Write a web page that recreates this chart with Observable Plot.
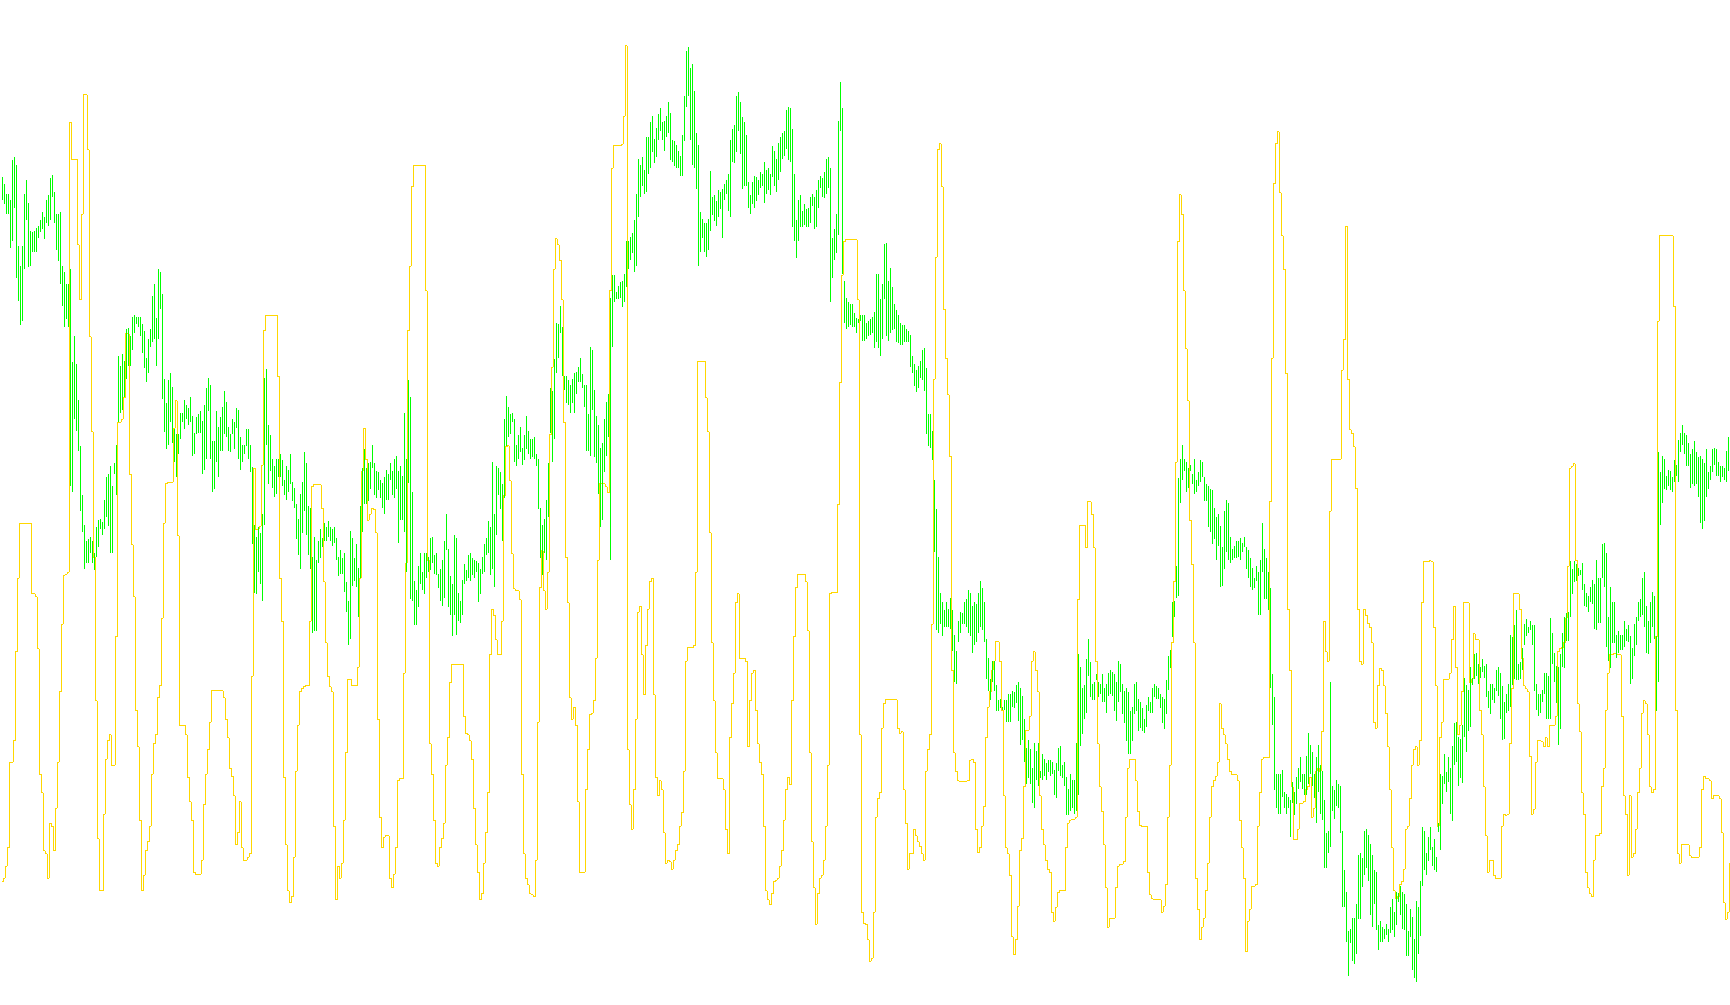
<!DOCTYPE html>
<html><head><meta charset="utf-8">
<script src="https://cdn.jsdelivr.net/npm/d3@7"></script>
<script src="https://cdn.jsdelivr.net/npm/@observablehq/plot@0.6"></script>
<style>html,body{margin:0;padding:0;background:#fff;overflow:hidden}</style>
</head><body><div id="chart"></div>
<script>
// Bar highs (price units)
const high = [
2760,2748,2732,2732,2722,2788,2793,2780,2648,2615,
2648,2732,2755,2717,2672,2670,2672,2677,2680,2690,
2702,2695,2722,2730,2758,2763,2735,2700,2700,2702,
2615,2605,2585,2585,2610,2458,2500,2455,2395,2320,
2240,2192,2165,2168,2172,2165,2145,2188,2200,2202,
2197,2232,2270,2275,2288,2255,2292,2322,2468,2452,
2470,2460,2512,2513,2500,2532,2535,2532,2532,2532,
2520,2508,
2465,2495,2512,2565,2585,2530,2610,2605,2568,2430,
2390,2428,2440,2417,2348,2340,2340,2375,2375,2395,
2388,2382,2400,2370,2342,2368,2372,2378,2362,2388,
2415,2432,2420,2328,2328,2378,2352,2368,2385,2410,
2392,2352,2340,2365,2360,2382,2380,2335,2322,2322,
2348,2348,2322,2287,2192,2172,2188,2178,2210,2432,
2447,2355,2338,2300,2288,2300,2300,2308,2298,2265,
2288,2282,2308,
2262,2252,2225,2202,2242,2262,2310,2293,2222,2220,
2140,2172,2135,2165,2185,2170,2195,2188,2198,2188,
2185,2188,2170,2140,2150,2138,2145,2098,2068,2182,
2170,2138,2160,2122,2222,2285,2315,2285,2292,2295,
2322,2292,2280,2278,2265,2260,2270,2282,2275,2292,
2280,2300,2305,2280,2288,2272,2375,2300,2428,2400,
2245,2100,2085,2125,2145,2115,2145,2145,2140,2170,
2172,2142,
2145,2112,2120,2135,2165,2210,2152,2108,2095,2175,
2170,2080,2068,2102,2128,2118,2142,2145,2138,2135,
2132,2130,2120,2140,2160,2170,2198,2188,2295,2210,
2288,2285,2278,2258,2365,2402,2385,2372,2375,2365,
2322,2338,2352,2318,2338,2370,2345,2332,2332,2335,
2308,2300,2220,2192,2202,2232,2292,2415,2410,2462,
2522,2520,2550,2515,2435,2435,2428,2420,2430,2440,
2442,2450,2465,
2438,2420,2420,2372,2482,2478,2412,2370,2355,2318,
2325,2365,2392,2405,2562,2600,2600,2572,2582,2588,
2590,2602,2655,2655,2662,2668,2690,2732,2790,2780,
2792,2772,2825,2825,2850,2860,2822,2840,2862,2872,
2850,2852,2860,2882,2865,2820,2818,2812,2802,2795,
2828,2892,2965,2972,2938,2945,2900,2832,2812,2702,
2692,2685,2685,2692,2770,2728,2730,2720,2738,2735,
2740,2748,
2755,2765,2820,2838,2845,2892,2898,2882,2858,2850,
2828,2752,2730,2752,2762,2760,2755,2768,2765,2785,
2772,2775,2765,2810,2802,2790,2815,2825,2832,2835,
2870,2875,2872,2838,2765,2690,2722,2730,2705,2715,
2708,2710,2728,2732,2728,2738,2755,2762,2758,2768,
2790,2792,2775,2660,2675,2700,2852,2915,2872,2590,
2562,2555,2552,2552,2538,2530,2528,2535,2535,2535,
2522,2525,2528,
2532,2540,2602,2602,2560,2585,2650,2652,2590,2612,
2580,2552,2542,2535,2522,2518,2518,2512,2508,2502,
2468,2455,2445,2452,2460,2478,2480,2448,2372,2372,
2345,2265,2218,2140,2080,2065,2052,2065,2055,2072,
2052,2012,1985,2035,2050,2048,2065,2070,2085,2080,
2060,2065,2062,2080,2100,2088,2065,2005,1975,1940,
1970,1970,1930,1905,1908,1895,1905,1905,1915,1915,
1920,1918,
1930,1935,1925,1912,1875,1828,1840,1825,1795,1835,
1822,1835,1790,1818,1810,1802,1808,1808,1805,1792,
1802,1828,1830,1800,1805,1780,1760,1785,1775,1775,
1835,1980,1960,1925,1930,1972,2005,1968,1932,1935,
1948,1935,1932,1948,1925,1932,1950,1955,1952,1948,
1935,1970,1965,1932,1920,1925,1918,1888,1895,1932,
1935,1908,1902,1892,1875,1898,1910,1902,1925,1932,
1928,1925,1915,
1910,1908,1938,1978,1988,2065,2068,2125,2268,2300,
2322,2300,2295,2285,2290,2275,2300,2265,2278,2298,
2295,2270,2258,2255,2250,2248,2220,2205,2210,2190,
2155,2215,2232,2228,2172,2152,2158,2165,2165,2170,
2162,2172,2155,2150,2138,2122,2105,2125,2115,2135,
2195,2152,2138,2115,2088,1948,1910,1785,1785,1785,
1792,1755,1752,1748,1742,1772,1755,1780,1795,1812,
1785,1785,
1815,1852,1832,1820,1785,1812,1832,1800,1790,1742,
1688,1692,1935,1765,1758,1775,1768,1765,1692,1628,
1592,1528,1532,1550,1550,1572,1652,1655,1648,1692,
1695,1685,1670,1652,1628,1625,1538,1545,1535,1532,
1540,1532,1568,1580,1560,1592,1590,1602,1592,1588,
1572,1528,1565,1552,1515,1578,1568,1610,1698,1692,
1655,1682,1698,1665,1678,1650,1705,1785,1782,1818,
1788,1812,1795,
1830,1868,1870,1845,1842,1865,1942,1930,1922,1960,
1942,1980,1982,1965,1960,1972,1962,1965,1920,1932,
1932,1925,1955,1960,1950,1928,1902,1915,1932,2012,
2008,2028,2052,1965,1968,1990,2030,2038,2025,2035,
2028,2028,1932,1915,1915,1922,1950,1950,1945,2040,
2015,1982,1962,1960,1980,2015,2042,2048,2050,2132,
2120,2132,2128,2122,2118,2130,2095,2080,2075,2090,
2102,2095,
2135,2105,2105,2160,2162,2145,2042,2090,2065,2065,
2012,2018,2012,2012,2035,2022,2028,2010,1990,2030,
2042,2065,2070,2105,2115,2060,2035,2065,2082,2075,
2010,2310,2278,2305,2300,2272,2282,2280,2270,2298,
2290,2330,2342,2355,2342,2338,2325,2308,2315,2328,
2310,2302,2305,2300,2292,2315,2278,2288,2315,2318,
2315,2295,2288,2288,2285,2312,2335,2348
];

// Bar lows (price units)
const low = [
2722,2715,2700,2700,2644,2655,2710,2595,2557,2518,
2525,2610,2690,2613,2615,2638,2638,2638,2660,2670,
2675,2658,2685,2680,2690,2728,2685,2640,2622,2585,
2550,2515,2528,2515,2255,2245,2365,2345,2312,2215,
2180,2120,2130,2130,2145,2130,2118,2140,2155,2185,
2175,2185,2205,2190,2145,2145,2275,2240,2360,2375,
2380,2400,2430,2452,2452,2478,2505,2520,2515,2500,
2473,2448,
2425,2440,2482,2490,2495,2452,2495,2545,2398,2343,
2315,2322,2360,2325,2295,2270,2308,2332,2360,2348,
2365,2355,2360,2305,2308,2340,2342,2342,2275,2282,
2300,2378,2300,2245,2250,2295,2270,2312,2312,2340,
2335,2312,2310,2340,2315,2350,2300,2282,2295,2308,
2320,2300,2278,2160,2080,2078,2115,2095,2068,2192,
2322,2258,2280,2252,2238,2242,2270,2270,2255,2240,
2232,2245,2258,
2230,2220,2168,2142,2120,2178,2215,2175,2142,2120,
2015,2018,2018,2130,2138,2155,2165,2165,2172,2165,
2158,2162,2135,2108,2112,2112,2082,2050,1995,2005,
2092,2100,2090,2042,2105,2180,2225,2225,2230,2250,
2285,2240,2235,2248,2235,2220,2210,2232,2232,2265,
2240,2235,2250,2162,2200,2200,2180,2115,2260,2070,
2068,2028,2028,2058,2095,2085,2078,2105,2115,2118,
2130,2112,
2110,2088,2068,2060,2072,2150,2058,2045,2010,2045,
2012,2035,2032,2045,2095,2100,2105,2100,2110,2105,
2115,2065,2078,2112,2115,2142,2145,2110,2120,2090,
2175,2240,2218,2165,2235,2320,2335,2340,2360,2295,
2288,2300,2310,2290,2298,2315,2308,2300,2302,2300,
2288,2218,2138,2110,2145,2135,2205,2342,2295,2332,
2440,2465,2505,2435,2412,2390,2388,2375,2390,2375,
2405,2425,2425,
2415,2385,2312,2312,2305,2380,2302,2292,2242,2188,
2200,2278,2305,2335,2135,2482,2555,2560,2560,2562,
2548,2555,2580,2610,2625,2635,2605,2615,2695,2728,
2745,2732,2735,2765,2775,2800,2782,2792,2820,2835,
2820,2802,2825,2832,2788,2785,2778,2775,2775,2762,
2762,2818,2875,2892,2820,2780,2775,2740,2615,2638,
2660,2638,2630,2640,2672,2698,2688,2680,2695,2708,
2660,2722,
2732,2705,2695,2785,2782,2800,2835,2798,2740,2745,
2745,2710,2700,2715,2710,2720,2730,2742,2745,2718,
2732,2738,2730,2760,2745,2735,2755,2768,2790,2795,
2805,2788,2785,2678,2655,2628,2655,2678,2678,2682,
2678,2678,2685,2712,2675,2678,2710,2742,2728,2725,
2732,2742,2555,2595,2625,2635,2665,2835,2602,2522,
2512,2515,2518,2515,2515,2505,2522,2525,2492,2492,
2495,2500,2502,
2505,2480,2490,2480,2468,2495,2560,2500,2492,2505,
2510,2512,2490,2488,2485,2485,2490,2490,2490,2450,
2440,2418,2408,2415,2432,2428,2410,2340,2320,2318,
2298,2148,2020,2015,2030,2010,2025,2025,2025,2022,
1985,1935,1932,2000,2015,2030,2030,2025,2015,2010,
1982,1995,2000,2015,2025,2020,2000,1940,1920,1905,
1935,1920,1888,1888,1892,1890,1890,1870,1870,1870,
1895,1892,
1900,1872,1832,1840,1805,1768,1778,1768,1738,1730,
1775,1765,1778,1775,1782,1775,1788,1782,1785,1750,
1745,1790,1782,1778,1765,1718,1718,1725,1730,1720,
1725,1750,1830,1850,1875,1885,1945,1910,1905,1905,
1938,1910,1915,1902,1902,1885,1912,1915,1912,1888,
1872,1902,1918,1882,1868,1838,1818,1818,1838,1882,
1888,1855,1860,1855,1852,1862,1888,1885,1885,1910,
1908,1908,1892,
1868,1858,1882,1922,1958,2008,2042,2072,2075,2228,
2265,2280,2245,2252,2280,2258,2242,2245,2255,2262,
2270,2230,2230,2188,2180,2160,2168,2135,2158,2090,
2092,2120,2148,2135,2130,2135,2138,2138,2140,2135,
2148,2155,2120,2105,2090,2085,2088,2100,2045,2045,
2115,2070,2070,2052,1925,1865,1758,1730,1720,1720,
1748,1730,1720,1730,1682,1738,1718,1735,1760,1772,
1760,1750,
1750,1768,1785,1765,1745,1705,1755,1720,1710,1632,
1632,1655,1665,1725,1712,1732,1730,1688,1568,1568,
1510,1455,1508,1480,1475,1490,1548,1548,1600,1620,
1632,1610,1555,1535,1572,1530,1498,1510,1510,1515,
1522,1510,1525,1530,1518,1538,1575,1555,1532,1530,
1488,1488,1518,1465,1452,1445,1490,1520,1602,1628,
1620,1642,1660,1635,1628,1625,1690,1660,1735,1768,
1755,1772,1720,
1708,1800,1805,1765,1778,1770,1845,1820,1855,1862,
1930,1940,1945,1932,1942,1952,1942,1910,1892,1882,
1905,1900,1920,1912,1875,1840,1842,1885,1888,1895,
1930,1940,1938,1938,1940,1955,1995,2010,2015,2020,
1995,1920,1890,1880,1885,1902,1915,1875,1875,1875,
1965,1935,1900,1832,1858,1960,1958,2002,2002,2042,
2078,2098,2100,2108,2110,2085,2060,2058,2050,2065,
2062,2022,
2020,2032,2032,2105,2090,1992,1970,1958,1998,1998,
1975,1982,1988,1988,1992,2002,2000,1932,1940,1978,
1995,2035,2042,2045,2025,1982,1980,1998,2025,2005,
1888,1935,2192,2228,2250,2248,2255,2248,2245,2262,
2272,2262,2310,2322,2308,2288,2288,2252,2258,2255,
2258,2238,2195,2185,2198,2238,2250,2265,2278,2290,
2272,2272,2262,2270,2265,2262,2280,2310
];

// Oscillator (yellow line), same units
const osc = [
1610,1615,1635,1665,1805,1805,1840,1985,2105,2195,
2195,2195,2195,2195,2195,2080,2080,2075,1990,1785,
1755,1660,1655,1615,1705,1700,1660,1730,1805,1920,
2030,2110,2112,2115,2850,2790,2790,2790,2650,2560,
2700,2895,2895,2805,2500,2345,2140,1905,1680,1595,
1595,1720,1810,1840,1850,1800,1800,2010,2360,2360,
2365,2400,2505,2505,2275,2160,2075,1890,1830,1710,
1595,1620,
1660,1675,1700,1785,1835,1850,1910,1930,2040,2195,
2260,2262,2262,2262,2350,2395,2175,1865,1865,1865,
1850,1780,1740,1710,1625,1622,1622,1622,1645,1735,
1785,1825,1870,1922,1922,1922,1922,1922,1922,1910,
1875,1845,1795,1782,1750,1670,1690,1740,1665,1645,
1645,1650,1655,1945,2285,2185,2185,2190,2290,2510,
2535,2535,2535,2535,2535,2535,2435,2105,2035,1780,
1670,1595,1575,
1585,1650,1790,1865,1920,1925,1928,1930,1930,2035,
2255,2258,2258,2258,2258,2220,2100,2000,1945,1928,
1920,1700,1580,1635,1615,1640,1710,1820,1940,1940,
1930,1930,1930,1960,2105,2280,2350,2300,2200,2210,
2220,2218,2180,1875,1715,1665,1682,1685,1685,1615,
1600,1622,1665,1775,1778,1778,1950,2130,2510,2615,
2745,2780,2780,2780,2780,2780,2780,2575,2135,1835,
1785,1710,
1640,1635,1665,1680,1705,1800,1845,1935,1965,1965,
1965,1965,1965,1965,1880,1852,1850,1840,1810,1730,
1670,1625,1580,1590,1640,1690,1755,1980,2055,2045,
2005,1980,1980,2035,2240,2320,2322,2265,2145,2088,
2085,2085,2070,1785,1655,1615,1605,1590,1588,1585,
1645,1870,2090,2150,2085,2055,2115,2340,2450,2610,
2660,2650,2625,2560,2360,2140,2065,1910,1875,1895,
1865,1740,1625,
1625,1625,1760,1825,1882,1885,1905,1975,2135,2260,
2260,2260,2255,2245,2575,2775,2812,2812,2812,2812,
2814,2860,2975,1825,1735,1695,1760,1875,2050,2060,
1980,1915,1995,2055,2100,2105,1915,1780,1750,1775,
1760,1690,1640,1645,1642,1630,1645,1660,1670,1700,
1722,1790,1970,1992,1992,1992,1995,2115,2460,2460,
2460,2460,2400,2345,2180,2000,1905,1820,1778,1778,
1778,1760,
1695,1655,1845,1900,1950,2065,2080,1975,1975,1975,
1970,1830,1905,1950,1955,1890,1835,1805,1785,1700,
1595,1580,1572,1590,1610,1612,1615,1635,1660,1710,
1760,1780,1768,1905,2010,2090,2112,2112,2112,2112,
2100,2020,1820,1675,1600,1540,1590,1615,1620,1645,
1700,1800,2080,2082,2082,2082,2225,2425,2600,2655,
2658,2658,2658,2658,2658,2658,2560,1850,1560,1542,
1540,1515,1480,
1485,1560,1715,1745,1755,1860,1900,1907,1907,1907,
1907,1907,1907,1860,1852,1855,1760,1705,1630,1655,
1655,1695,1685,1675,1668,1655,1645,1790,1825,1850,
2030,2430,2630,2805,2815,2745,2545,2465,2405,2305,
1955,1820,1790,1775,1774,1774,1774,1774,1775,1808,
1810,1805,1695,1657,1665,1700,1732,1845,1895,1920,
1955,1970,2002,2002,1970,1890,1750,1665,1655,1620,
1520,1490,
1515,1570,1660,1680,1765,1857,1857,1880,1970,1985,
1955,1920,1750,1695,1670,1645,1630,1625,1560,1545,
1568,1592,1595,1595,1595,1665,1705,1710,1712,1712,
1715,2070,2192,2192,2192,2155,2230,2230,2210,2155,
1970,1835,1765,1725,1670,1600,1535,1550,1550,1550,
1600,1635,1638,1638,1642,1715,1795,1810,1810,1810,
1775,1725,1702,1700,1700,1700,1625,1588,1582,1580,
1580,1580,1580,
1560,1570,1605,1715,1800,2000,2100,2295,2655,2732,
2700,2575,2480,2395,2200,2128,2000,1615,1565,1515,
1535,1550,1595,1640,1715,1765,1775,1782,1805,1900,
1860,1850,1835,1810,1790,1785,1785,1784,1775,1710,
1665,1615,1495,1545,1565,1602,1602,1605,1700,1755,
1810,1812,1812,1812,2230,2465,2750,2815,2835,2735,
2665,2610,2440,2055,1955,1765,1678,1678,1695,1738,
1738,1740,
1760,1765,1780,1715,1730,1790,1795,1790,1855,2035,
1985,1970,2215,2300,2300,2300,2300,2300,2445,2495,
2680,2430,2348,2342,2320,2252,2055,1970,1965,2055,
2045,2032,2025,2000,1870,1860,1930,1958,1955,1930,
1885,1830,1760,1665,1595,1582,1585,1605,1610,1630,
1695,1700,1745,1800,1825,1830,1800,1840,2065,2132,
2132,2132,2134,2132,2025,1930,1700,1845,1870,1940,
1940,1940,1950,
2005,2060,1960,1850,1865,1920,2065,2065,2065,1935,
1940,2015,2005,2005,1890,1850,1765,1685,1625,1645,
1645,1620,1615,1615,1615,1700,1720,1718,1720,1835,
1925,2080,2080,2080,2055,1975,1930,1925,1920,1815,
1720,1728,1805,1840,1840,1838,1830,1845,1830,1865,
1865,1865,1880,1985,1990,1992,2000,2040,2125,2285,
2288,2292,2135,1900,1855,1755,1720,1625,1600,1590,
1585,1645,
1685,1685,1688,1765,1795,1890,1950,1980,1980,1982,
1982,1980,1980,1880,1750,1720,1620,1750,1650,1655,
1695,1755,1795,1885,1905,1900,1850,1765,1755,1760,
2010,2525,2665,2665,2665,2665,2665,2665,2665,2550,
1890,1655,1640,1670,1670,1670,1670,1652,1650,1650,
1650,1650,1665,1760,1782,1778,1778,1775,1745,1750,
1750,1750,1745,1690,1575,1548,1560,1640
];

const n = high.length;
if (low.length !== n || osc.length !== n) {
  throw new Error(`length mismatch: high ${high.length}, low ${low.length}, osc ${osc.length}`);
}
const bars = d3.range(n).map(i => ({i, hi: high[i], lo: low[i], osc: osc[i]}));

const chart = Plot.plot({
  width: 1730,
  height: 1005,
  margin: 0,
  x: {domain: [-0.75, n - 0.75], axis: null},
  y: {domain: [1407.5, 3049], axis: null},
  style: {background: "#ffffff"},
  marks: [
    Plot.line(bars, {x: "i", y: "osc", curve: "step", stroke: "#ffd700", strokeWidth: 1, shapeRendering: "crispEdges"}),
    Plot.ruleX(bars, {x: "i", y1: "lo", y2: "hi", stroke: "#00ff00", strokeWidth: 1, shapeRendering: "crispEdges"})
  ]
});
document.getElementById("chart").appendChild(chart);
</script>
</body></html>
